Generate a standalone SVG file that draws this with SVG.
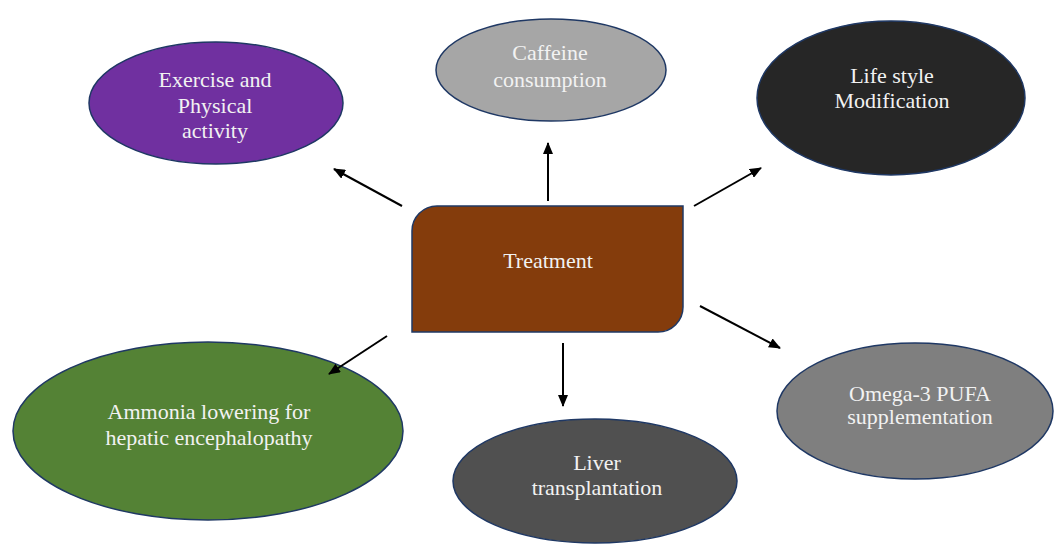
<svg xmlns="http://www.w3.org/2000/svg" width="1054" height="544" viewBox="0 0 1054 544">
<style>
.n{stroke:#1F3864;stroke-width:1.5}
.t{font-family:"Liberation Serif","Times New Roman",serif;font-size:22px;fill:#F2F2F2;text-anchor:middle}
.c{stroke:#000;stroke-width:2;fill:none;marker-end:url(#ah)}
</style>
<defs>
<marker id="ah" viewBox="0 0 12 10" refX="11" refY="5" markerWidth="12" markerHeight="10" markerUnits="userSpaceOnUse" orient="auto">
<path d="M0,0 L12,5 L0,10 Z" fill="#000"/>
</marker>
</defs>
<rect width="1054" height="544" fill="#fff"/>
<g id="exercise">
<ellipse class="n" cx="216" cy="103" rx="127" ry="61" fill="#7030A0"/>
<text class="t" x="215" y="87">Exercise and</text>
<text class="t" x="215" y="113">Physical</text>
<text class="t" x="215" y="138">activity</text>
</g>
<g id="caffeine">
<ellipse class="n" cx="551" cy="70" rx="115" ry="51" fill="#A6A6A6"/>
<text class="t" x="550" y="60">Caffeine</text>
<text class="t" x="550" y="87">consumption</text>
</g>
<g id="lifestyle">
<ellipse class="n" cx="891" cy="98" rx="134" ry="77" fill="#262626"/>
<text class="t" x="892" y="83">Life style</text>
<text class="t" x="892" y="108">Modification</text>
</g>
<g id="treatment">
<path class="n" d="M437,206 H683 V307 A25,25 0 0 1 658,332 H412 V231 A25,25 0 0 1 437,206 Z" fill="#843C0C"/>
<text class="t" x="548" y="268">Treatment</text>
</g>
<g id="ammonia">
<ellipse class="n" cx="208" cy="431" rx="195" ry="89" fill="#548235"/>
<text class="t" x="209" y="419">Ammonia lowering for</text>
<text class="t" x="209" y="445">hepatic encephalopathy</text>
</g>
<g id="liver">
<ellipse class="n" cx="595" cy="481" rx="142" ry="62" fill="#505050"/>
<text class="t" x="597" y="470">Liver</text>
<text class="t" x="597" y="495">transplantation</text>
</g>
<g id="omega">
<ellipse class="n" cx="915" cy="411" rx="138" ry="68" fill="#7F7F7F"/>
<text class="t" x="920" y="401">Omega-3 PUFA</text>
<text class="t" x="920" y="424">supplementation</text>
</g>
<g id="connectors">
<line class="c" x1="548" y1="201" x2="548" y2="143"/>
<line class="c" x1="402" y1="206" x2="334" y2="169"/>
<line class="c" x1="694" y1="206" x2="761" y2="168"/>
<line class="c" x1="387" y1="336" x2="329" y2="374"/>
<line class="c" x1="700" y1="306" x2="780" y2="348"/>
<line class="c" x1="563" y1="343" x2="563" y2="406"/>
</g>
</svg>
